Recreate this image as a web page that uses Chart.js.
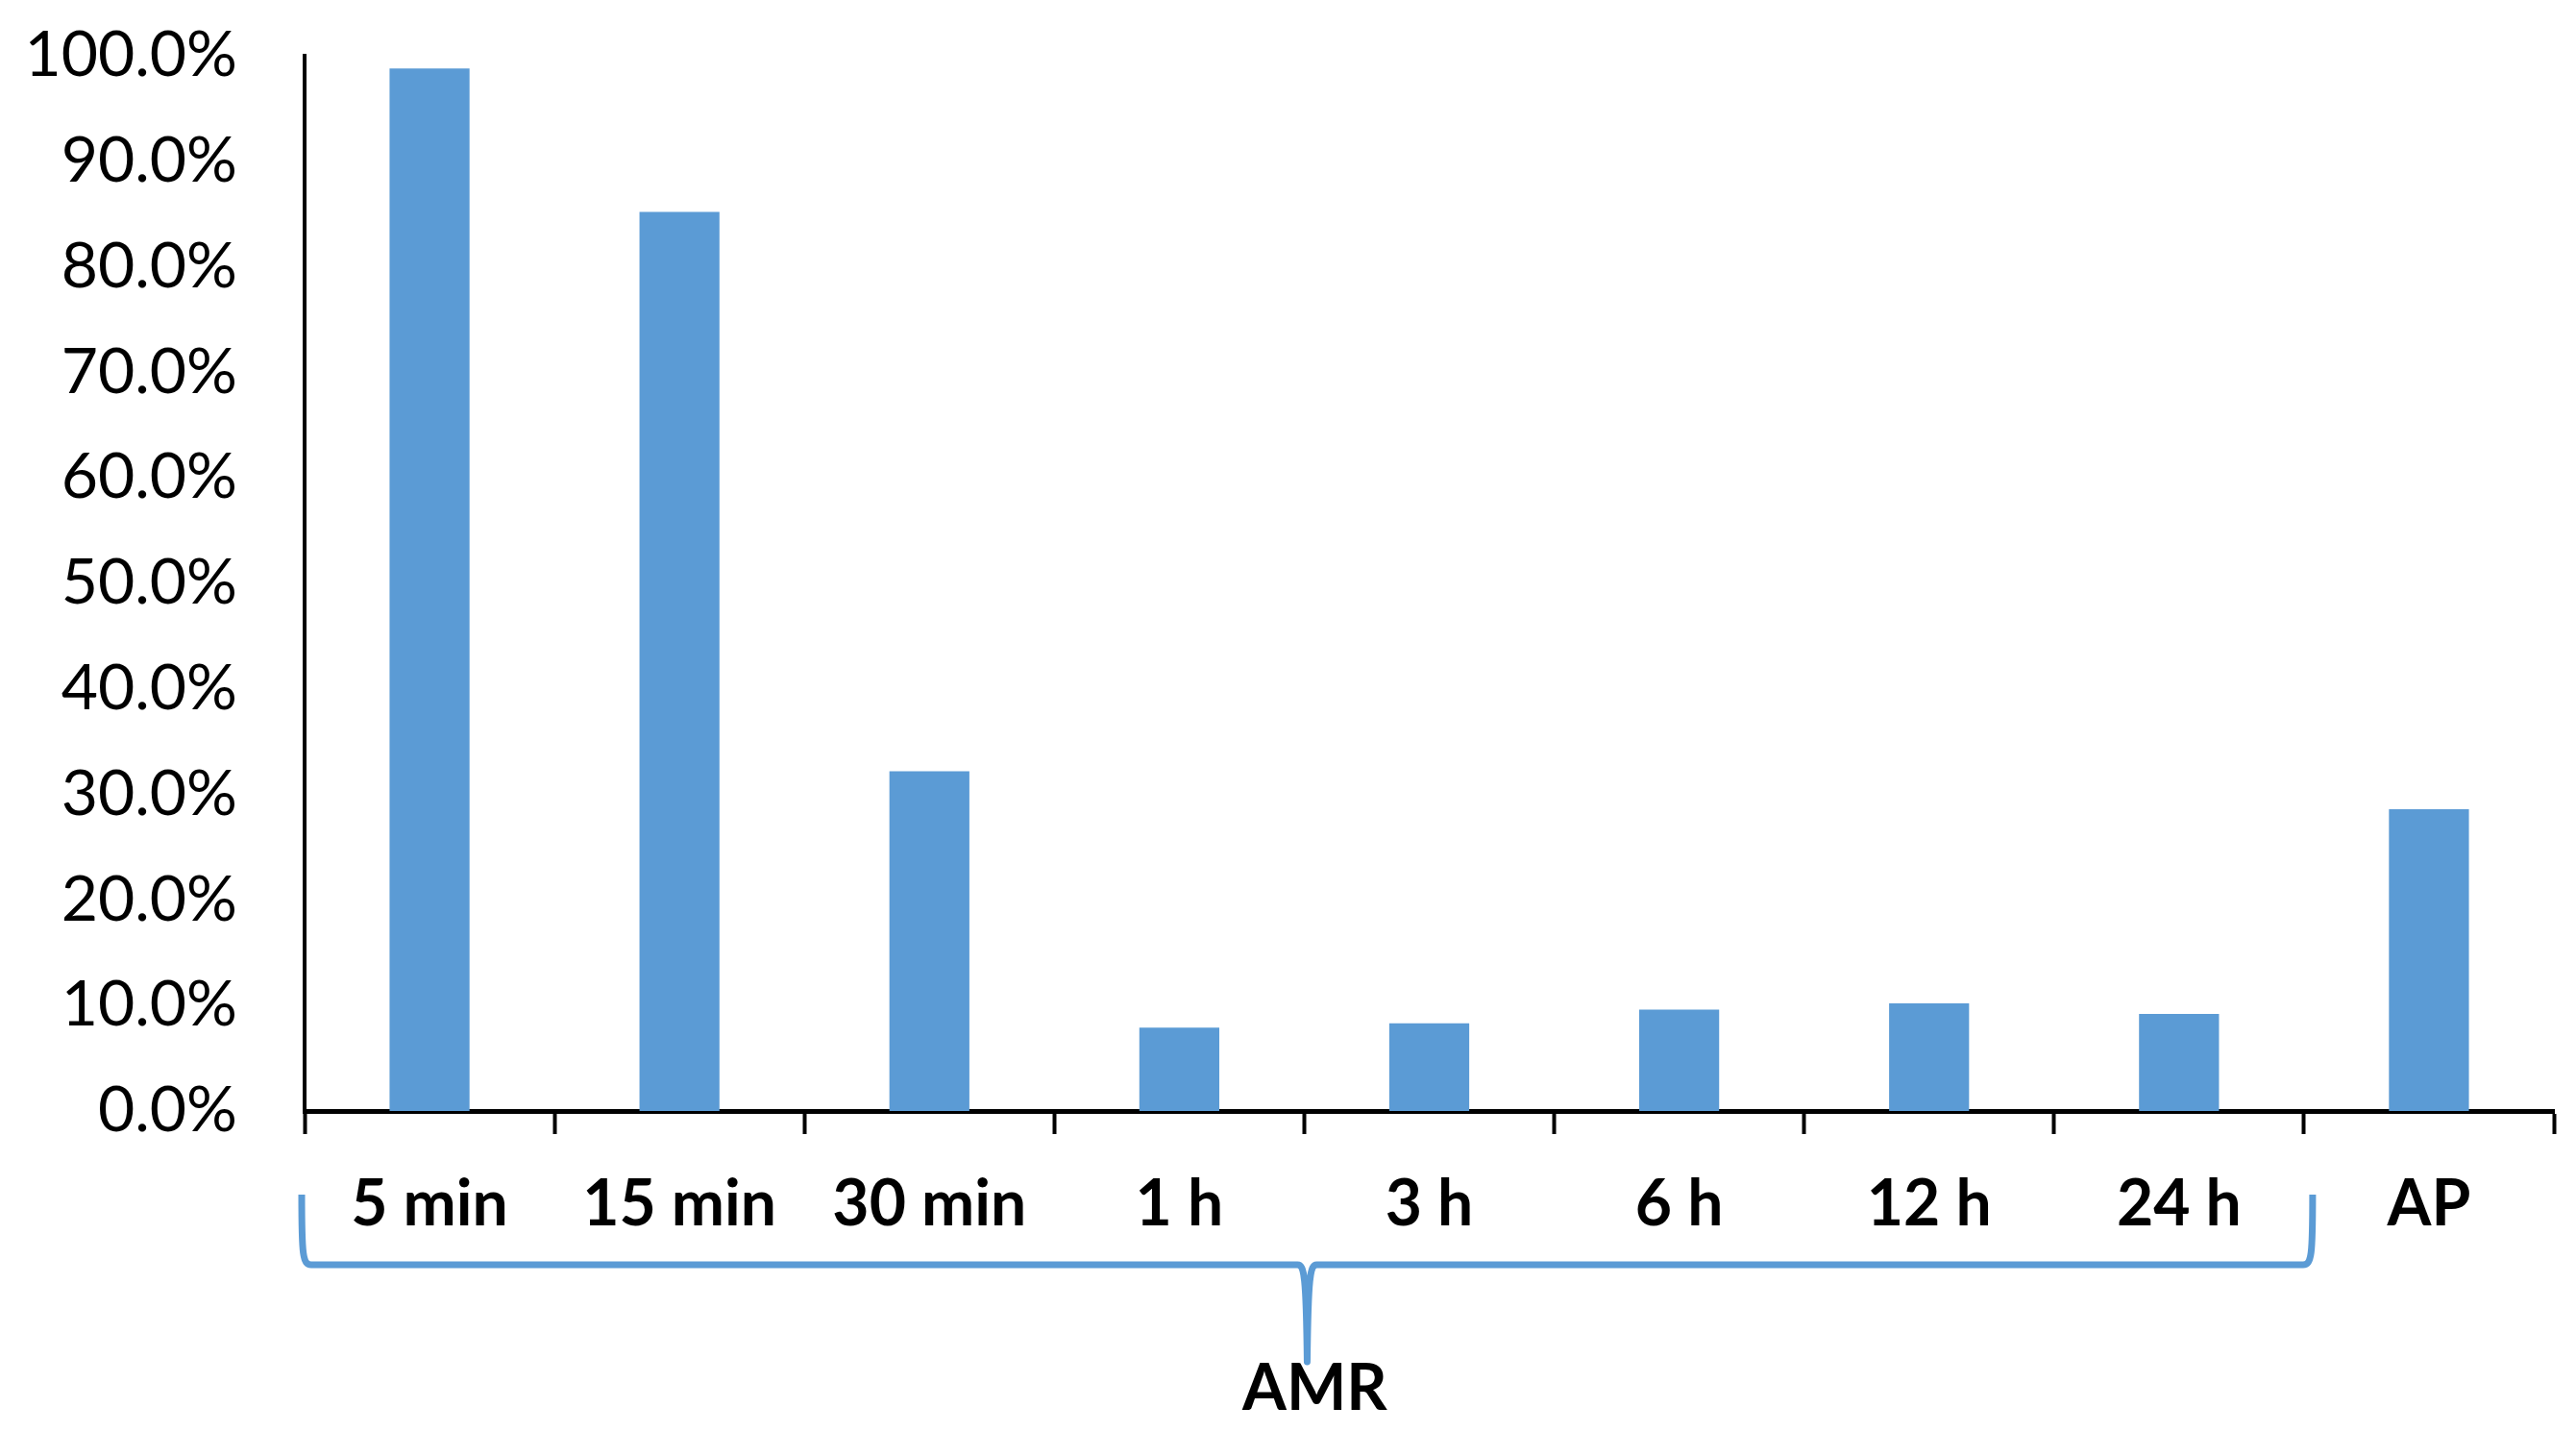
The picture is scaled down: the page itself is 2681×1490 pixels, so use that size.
<!DOCTYPE html>
<html>
<head>
<meta charset="utf-8">
<script src="https://cdn.jsdelivr.net/npm/chart.js@4"></script>
<style>
  html, body { margin: 0; padding: 0; background: #fff; }
  #wrap { width: 2681px; height: 1490px; }
</style>
</head>
<body>
<div id="wrap"><canvas id="chart" width="2681" height="1490"></canvas></div>
<script>
const categories = ['5 min', '15 min', '30 min', '1 h', '3 h', '6 h', '12 h', '24 h', 'AP'];
const values = [98.8, 85.2, 32.2, 7.9, 8.3, 9.6, 10.2, 9.2, 28.6];
const groupLabel = 'AMR';
const groupEnd = 7; // last category under the brace

const blue = '#5B9BD5';

// curly brace under the AMR categories, plus its label
const bracePlugin = {
    id: 'brace',
    afterDraw(chart) {
        const x = chart.scales.x;
        const ctx = chart.ctx;
        const left = x.left - 3;
        const right = (x.getPixelForValue(groupEnd) + x.getPixelForValue(groupEnd + 1)) / 2 + 9;
        const mid = (left + right) / 2;
        const top = x.top + 87;
        const line = x.top + 160;
        const tip = x.top + 261;

        ctx.save();
        ctx.strokeStyle = blue;
        ctx.lineWidth = 7;
        ctx.lineJoin = 'round';
        ctx.beginPath();
        ctx.moveTo(left, top);
        ctx.bezierCurveTo(left, line - 10, left + 1, line, left + 10, line);
        ctx.lineTo(mid - 10, line);
        ctx.bezierCurveTo(mid - 3, line, mid - 1, line + 12, mid, tip);
        ctx.bezierCurveTo(mid + 1, line + 12, mid + 3, line, mid + 10, line);
        ctx.lineTo(right - 10, line);
        ctx.bezierCurveTo(right - 1, line, right, line - 10, right, top);
        ctx.stroke();

        ctx.fillStyle = '#000';
        ctx.font = 'bold 66px Lato';
        ctx.textAlign = 'center';
        ctx.textBaseline = 'middle';
        ctx.fillText(groupLabel, mid + 8, x.top + 290);
        ctx.restore();
    }
};

new Chart(document.getElementById('chart'), {
    type: 'bar',
    data: {
        labels: categories,
        datasets: [{
            data: values,
            backgroundColor: blue,
            borderWidth: 0,
            categoryPercentage: 1,
            barPercentage: 0.32
        }]
    },
    options: {
        responsive: false,
        animation: false,
        layout: { padding: { top: 58, right: 23, left: 0, bottom: 0 } },
        plugins: {
            legend: { display: false },
            tooltip: { enabled: false }
        },
        scales: {
            x: {
                offset: true,
                grid: {
                    display: true,
                    offset: true,
                    drawOnChartArea: false,
                    drawTicks: true,
                    tickLength: 24,
                    tickWidth: 4,
                    tickColor: '#000'
                },
                border: { display: true, color: '#000', width: 5 },
                ticks: {
                    color: '#000',
                    padding: 34,
                    maxRotation: 0,
                    autoSkip: false,
                    font: { family: 'Lato', size: 66, weight: 'bold' }
                },
                afterFit(scale) { scale.height = 334; }
            },
            y: {
                min: 0,
                max: 100,
                grid: { display: false, drawTicks: false },
                border: { display: true, color: '#000', width: 4 },
                ticks: {
                    stepSize: 10,
                    color: '#000',
                    padding: 70,
                    font: { family: 'Lato', size: 66 },
                    callback: v => v.toFixed(1) + '%'
                },
                afterFit(scale) {
                    scale.width = 317;
                    scale.paddingTop = 0;
                    scale.paddingBottom = 0;
                }
            }
        }
    },
    plugins: [bracePlugin]
});
</script>
</body>
</html>
